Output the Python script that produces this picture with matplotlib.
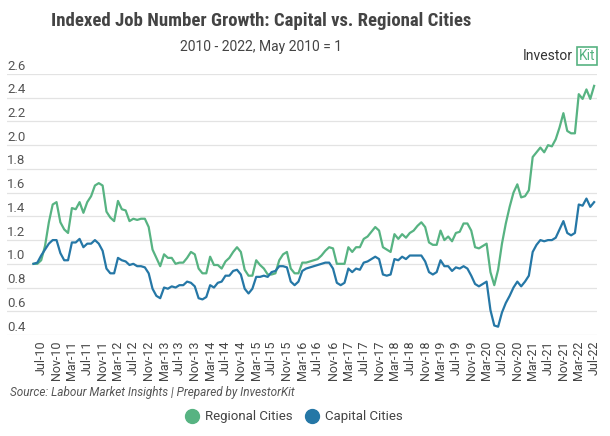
import matplotlib.pyplot as plt
import pandas as pd
from matplotlib import font_manager
from matplotlib.transforms import blended_transform_factory

# Monthly index values, May 2010 = 1
start_month = "2010-05"

regional = [
    1.00, 1.00, 1.03, 1.15, 1.35, 1.50, 1.52, 1.35, 1.29, 1.26,
    1.47, 1.46, 1.52, 1.43, 1.52, 1.57, 1.66, 1.68, 1.66, 1.44,
    1.39, 1.36, 1.53, 1.46, 1.45, 1.36, 1.38, 1.37, 1.38, 1.38,
    1.31, 1.12, 1.05, 0.98, 1.08, 1.05, 1.05, 1.00, 1.01, 1.01,
    1.05, 1.10, 1.08, 0.96, 0.92, 0.92, 1.06, 0.99, 0.99, 0.96,
    1.02, 1.05, 1.10, 1.14, 1.10, 0.95, 0.90, 0.90, 1.03, 0.99,
    0.96, 0.91, 0.91, 0.92, 1.03, 1.08, 1.10, 0.96, 0.92, 0.92,
    1.01, 1.01, 1.02, 1.03, 1.04, 1.07, 1.11, 1.14, 1.13, 1.00,
    1.00, 1.00, 1.14, 1.10, 1.14, 1.14, 1.21, 1.23, 1.27, 1.31,
    1.28, 1.14, 1.12, 1.10, 1.25, 1.21, 1.25, 1.22, 1.26, 1.28,
    1.32, 1.35, 1.31, 1.18, 1.16, 1.16, 1.28, 1.20, 1.23, 1.19,
    1.26, 1.27, 1.34, 1.34, 1.28, 1.14, 1.13, 1.15, 1.17, 0.93,
    0.82, 0.95, 1.17, 1.34, 1.48, 1.60, 1.67, 1.56, 1.57, 1.62,
    1.90, 1.94, 1.98, 1.94, 2.00, 1.99, 2.05, 2.15, 2.27, 2.12,
    2.10, 2.10, 2.43, 2.39, 2.47, 2.39, 2.50,
]

capital = [
    1.00, 1.01, 1.07, 1.12, 1.17, 1.20, 1.20, 1.09, 1.03, 1.03,
    1.18, 1.18, 1.21, 1.14, 1.17, 1.17, 1.20, 1.17, 1.11, 0.96,
    0.92, 0.92, 1.05, 1.03, 1.02, 0.99, 1.00, 0.98, 0.98, 0.97,
    0.92, 0.79, 0.73, 0.71, 0.80, 0.79, 0.81, 0.80, 0.82, 0.82,
    0.85, 0.84, 0.81, 0.71, 0.70, 0.72, 0.82, 0.80, 0.84, 0.85,
    0.90, 0.90, 0.94, 0.95, 0.91, 0.79, 0.75, 0.79, 0.89, 0.89,
    0.90, 0.89, 0.93, 0.94, 0.98, 0.98, 0.97, 0.85, 0.82, 0.85,
    0.94, 0.96, 0.97, 0.98, 0.99, 1.00, 1.01, 1.01, 0.96, 0.84,
    0.82, 0.84, 0.96, 0.93, 0.96, 0.95, 1.01, 1.02, 1.04, 1.06,
    1.04, 0.91, 0.90, 0.91, 1.04, 1.03, 1.06, 1.04, 1.07, 1.07,
    1.07, 1.07, 1.02, 0.93, 0.91, 0.93, 1.03, 0.98, 0.98, 0.94,
    0.97, 0.96, 0.98, 0.96, 0.90, 0.83, 0.81, 0.83, 0.85, 0.61,
    0.48, 0.47, 0.59, 0.67, 0.73, 0.80, 0.85, 0.81, 0.85, 0.90,
    1.10, 1.16, 1.20, 1.19, 1.20, 1.20, 1.22, 1.29, 1.36, 1.26,
    1.24, 1.26, 1.50, 1.49, 1.55, 1.48, 1.52,
]

y_ticks = [0.4, 0.6, 0.8, 1.0, 1.2, 1.4, 1.6, 1.8, 2.0, 2.2, 2.4, 2.6]
series_names = ["Regional Cities", "Capital Cities"]

GREEN = "#57b382"
BLUE = "#2577a6"
TEXT = "#444444"

names = {f.name for f in font_manager.fontManager.ttflist}
plt.rcParams["font.family"] = ["Roboto", "DejaVu Sans"]
cond = "Roboto Condensed" if "Roboto Condensed" in names else "Roboto"

months = pd.date_range(start_month, periods=len(regional), freq="MS")
x = list(range(len(months)))
tick_pos = x[2::4]
tick_labels = list(months[2::4].strftime("%b-%y"))

W, H = 610, 436
fig = plt.figure(figsize=(W / 100, H / 100), dpi=100)
ax = fig.add_axes([7 / W, 1 - 335 / H, 590 / W, 261 / H])

ax.plot(x, regional, color=GREEN, lw=1.6, solid_joinstyle="round", zorder=3)
ax.plot(x, capital, color=BLUE, lw=1.6, solid_joinstyle="round", zorder=3)

ax.set_xlim(-6.9, 146.75)
ax.set_ylim(0.4, 2.6)

# gridlines with labels sitting above them, left aligned
for v in y_ticks:
    ax.axhline(v, color="#e3e3e3", lw=0.9, zorder=1)
trans = blended_transform_factory(ax.transAxes, ax.transData)
for v in y_ticks:
    ax.text(0.0, v + 0.012, f"{v:.1f}", transform=trans, ha="left", va="bottom",
            fontsize=9.5, color="#555555")

ax.set_yticks([])
ax.set_xticks(tick_pos)
ax.set_xticklabels(tick_labels, rotation=90, fontsize=9, color=TEXT)
ax.tick_params(axis="x", length=0, pad=4)
for s in ax.spines.values():
    s.set_visible(False)

# titles
fig.text(261 / W, 1 - 21 / H, "Indexed Job Number Growth: Capital vs. Regional Cities",
         ha="center", va="center", fontsize=13.5, fontweight="bold", color=TEXT,
         family=cond)
fig.text(261 / W, 1 - 47 / H, "2010 - 2022, May 2010 = 1",
         ha="center", va="center", fontsize=10, color=TEXT)

# logo
fig.text(573 / W, 1 - 56 / H, "Investor", ha="right", va="center",
         fontsize=10, color="#333333")
fig.text(587 / W, 1 - 56 / H, "Kit", ha="center", va="center",
         fontsize=10, color=GREEN,
         bbox=dict(boxstyle="square,pad=0.15", fc="none", ec=GREEN, lw=1.2))

fig.text(10 / W, 1 - 392 / H, "Source: Labour Market Insights | Prepared by InvestorKit",
         ha="left", va="center", fontsize=8.5, style="italic", color="#555555")

# legend: circle + label pairs, laid out by measured text width, centred at x=294
renderer = fig.canvas.get_renderer()
ly = 1 - 416 / H
marker_d, marker_gap, item_gap = 14, 6, 12
labels = [fig.text(0, ly, lab, ha="left", va="center", fontsize=9.5, color=TEXT)
          for lab in series_names]
widths = [t.get_window_extent(renderer).width for t in labels]
total = sum(marker_d + marker_gap + w for w in widths) + item_gap
cur = 294 - total / 2
for t, w, col in zip(labels, widths, [GREEN, BLUE]):
    fig.add_artist(plt.Line2D([(cur + marker_d / 2) / W], [ly], marker="o", ms=10,
                              color=col, transform=fig.transFigure))
    t.set_x((cur + marker_d + marker_gap) / W)
    cur += marker_d + marker_gap + w + item_gap

fig.savefig("out.png", dpi=100)
